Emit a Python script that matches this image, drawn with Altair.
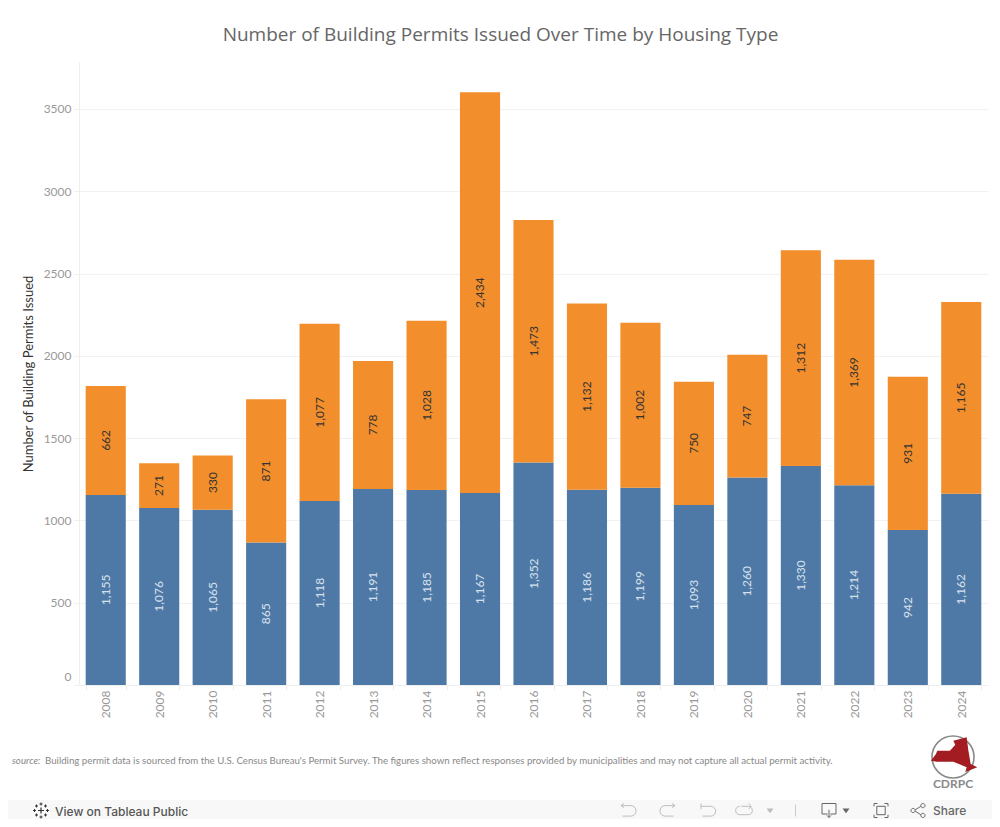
import altair as alt
import pandas as pd

years = [str(y) for y in range(2008, 2025)]
lower = [1155, 1076, 1065, 865, 1118, 1191, 1185, 1167, 1352, 1186, 1199, 1093, 1260, 1330, 1214, 942, 1162]
upper = [662, 271, 330, 871, 1077, 778, 1028, 2434, 1473, 1132, 1002, 750, 747, 1312, 1369, 931, 1165]
y_ticks = [0, 500, 1000, 1500, 2000, 2500, 3000, 3500]

TITLE = "Number of Building Permits Issued Over Time by Housing Type"
Y_TITLE = "Number of Building Permits Issued"
SOURCE_LEAD = "source:"
SOURCE = ("Building permit data is sourced from the U.S. Census Bureau's Permit Survey. The figures shown "
          "reflect responses provided by municipalities and may not capture all actual permit activity.")

# Plot frame on the page
PL, PT, PW, PH = 79, 62, 909, 623
FONT = "Lato"

rows = []
for yr, a, b in zip(years, lower, upper):
    rows.append(dict(year=yr, series="lower", base=0, top=a, mid=a / 2, value=a))
    rows.append(dict(year=yr, series="upper", base=a, top=a + b, mid=a + b / 2, value=b))
df = pd.DataFrame(rows)

x_enc = alt.X("year:N", title=None, sort=years,
              scale=alt.Scale(paddingInner=0.25, paddingOuter=0.125),
              axis=alt.Axis(labelAngle=270, labelColor="#999999", labelFontSize=12, labelFont=FONT,
                            labelAlign="right", labelBaseline="middle", labelPadding=0,
                            tickBand="extent", tickColor="#eeeeee", tickSize=5,
                            domainColor="#eeeeee", grid=False))
y_enc = alt.Y("base:Q", title=Y_TITLE,
              scale=alt.Scale(domain=[0, 3785], nice=False, zero=True),
              axis=alt.Axis(values=y_ticks, format="d", labelColor="#999999", labelFontSize=12, labelFont=FONT,
                            labelPadding=3, labelFlush=True, labelFlushOffset=-2,
                            tickColor="#eeeeee", tickSize=5, domainColor="#eeeeee",
                            gridColor="#f2f2f2", grid=True,
                            titleFont=FONT, titleFontSize=13, titleFontWeight="normal", titleColor="#333333",
                            titlePadding=8))

bars = alt.Chart(df).mark_bar().encode(
    x=x_enc, y=y_enc, y2="top:Q",
    color=alt.Color("series:N", legend=None,
                    scale=alt.Scale(domain=["lower", "upper"], range=["#4E79A7", "#F28E2B"])))


def labels(series, color):
    return alt.Chart(df[df.series == series]).mark_text(
        angle=270, font=FONT, fontSize=12, color=color, align="center", baseline="middle"
    ).encode(x=alt.X("year:N", sort=years), y=alt.Y("mid:Q"), text=alt.Text("value:Q", format=","))


one = alt.Data(values=[{"k": 0}])


def px(x):
    return alt.value(x - PL)


def py(y):
    return alt.value(y - PT)


def txt(s, x, y, size, color, align="left", weight="normal", style="normal", font=FONT):
    return alt.Chart(one).mark_text(text=s, fontSize=size, color=color, align=align, baseline="middle",
                                    fontWeight=weight, fontStyle=style, font=font).encode(x=px(x), y=py(y))


def box(x0, y0, x1, y1, color):
    return alt.Chart(one).mark_rect(color=color).encode(x=px(x0), x2=px(x1), y=py(y0), y2=py(y1))


def icon(path, x, y, side, stroke=None, fill=None, sw=1.0):
    kw = dict(shape=path, size=4 * side * side, opacity=1, strokeWidth=sw)
    kw["fill"] = fill if fill else "transparent"
    kw["stroke"] = stroke if stroke else "transparent"
    return alt.Chart(one).mark_point(**kw).encode(x=px(x), y=py(y))


def scaled(points, cx, cy, scale):
    return "M" + "L".join(f"{(a - cx) / scale:.3f},{(b - cy) / scale:.3f}" for a, b in points) + "Z"


ny_outline = [(993, 122), (1008, 102), (1012, 92), (1050, 92), (1066, 74), (1060, 62), (1100, 52), (1105, 90),
              (1112, 132), (1132, 142), (1096, 156), (1100, 142), (1060, 125), (1010, 125)]
NY = scaled(ny_outline, 1060, 105, 150)

CIRCLE = "M-0.5,0A0.5,0.5 0 1,1 0.5,0A0.5,0.5 0 1,1 -0.5,0Z"
TRI = "M-0.5,-0.3L0.5,-0.3L0,0.4Z"
CROSS = "M-0.5,0L0.5,0M0,-0.5L0,0.5"
UNDO = "M-0.5,-0.35L0.2,-0.35A0.35,0.35 0 0 1 0.2,0.4L-0.4,0.4M-0.3,-0.5L-0.5,-0.35L-0.3,-0.2"
REDO = "M0.5,-0.35L-0.2,-0.35A0.35,0.35 0 0 0 -0.2,0.4L0.4,0.4M0.3,-0.5L0.5,-0.35L0.3,-0.2"
REVERT = "M-0.5,-0.5L-0.5,-0.1M-0.5,-0.3L0.2,-0.3A0.35,0.35 0 0 1 0.2,0.4L-0.4,0.4"
REFRESH = ("M-0.2,-0.3L0.3,-0.3A0.3,0.3 0 0 1 0.3,0.3L-0.3,0.3A0.3,0.3 0 0 1 -0.3,-0.3"
           "M0.35,-0.5L0.5,-0.3L0.35,-0.1")
SCREEN = "M-0.5,-0.2L-0.5,-0.5L0.5,-0.5L0.5,0.25L0.1,0.25M-0.1,0.25L-0.5,0.25L-0.5,-0.2M0,-0.05L0,0.5M-0.15,0.35L0,0.5L0.15,0.35"
FRAME = ("M-0.5,-0.3L-0.5,-0.5L-0.25,-0.5M0.25,-0.5L0.5,-0.5L0.5,-0.3M0.5,0.3L0.5,0.5L0.25,0.5"
         "M-0.25,0.5L-0.5,0.5L-0.5,0.3M-0.3,-0.3L0.3,-0.3L0.3,0.3L-0.3,0.3Z")
SHARE = ("M-0.2,-0.05L0.2,-0.3M-0.2,0.05L0.2,0.3"
         "M-0.5,0A0.15,0.15 0 1,1 -0.2,0A0.15,0.15 0 1,1 -0.5,0Z"
         "M0.2,-0.35A0.15,0.15 0 1,1 0.5,-0.35A0.15,0.15 0 1,1 0.2,-0.35Z"
         "M0.2,0.35A0.15,0.15 0 1,1 0.5,0.35A0.15,0.15 0 1,1 0.2,0.35Z")

GREY = "#bdbdbd"
DARK = "#666666"
BAR_Y = 810.5
extras = [
    txt(SOURCE_LEAD, 12, 761, 9.7, "#888888", style="italic"),
    txt(SOURCE, 45, 761, 9.7, "#888888"),
    box(0, 800, 1000, 827, "#f8f8f8"),
    txt("View on Tableau Public", 55, BAR_Y + 1.5, 12, "#555555", weight=500, font="Inter"),
    icon(CROSS, 41, BAR_Y, 6, stroke="#333333", sw=1.2),
    icon(CROSS, 41, BAR_Y - 6.5, 3, stroke="#333333", sw=1),
    icon(CROSS, 41, BAR_Y + 6.5, 3, stroke="#333333", sw=1),
    icon(CROSS, 34.5, BAR_Y, 3, stroke="#333333", sw=1),
    icon(CROSS, 47.5, BAR_Y, 3, stroke="#333333", sw=1),
    icon(CROSS, 36.5, BAR_Y - 4.5, 3, stroke="#333333", sw=1),
    icon(CROSS, 45.5, BAR_Y - 4.5, 3, stroke="#333333", sw=1),
    icon(CROSS, 36.5, BAR_Y + 4.5, 3, stroke="#333333", sw=1),
    icon(CROSS, 45.5, BAR_Y + 4.5, 3, stroke="#333333", sw=1),
    icon(UNDO, 628, BAR_Y, 14, stroke=GREY),
    icon(REDO, 668, BAR_Y, 14, stroke=GREY),
    icon(REVERT, 708, BAR_Y, 14, stroke=GREY),
    icon(REFRESH, 744, BAR_Y, 14, stroke=GREY),
    icon(TRI, 770, BAR_Y, 7, fill=GREY),
    box(795, BAR_Y - 6, 796, BAR_Y + 6, "#cccccc"),
    icon(SCREEN, 829, BAR_Y, 14, stroke=DARK),
    icon(TRI, 846, BAR_Y, 7, fill=DARK),
    icon(FRAME, 881, BAR_Y, 14, stroke=DARK),
    icon(SHARE, 918, BAR_Y, 14, stroke=DARK),
    txt("Share", 933, BAR_Y, 12, DARK, weight=500, font="Inter"),
    icon(CIRCLE, 953, 757, 42, stroke="#8a8a8a", sw=1.6),
    icon(NY, 953.3, 755, 50, fill="#a31c22"),
    txt("CDRPC", 953, 784, 12, "#8a8a8a", align="center", weight="bold"),
]

chart = alt.layer(bars, labels("lower", "#d9e2ec"), labels("upper", "#333333"), *extras).properties(
    width=PW, height=PH,
    title=alt.TitleParams(TITLE, font="Open Sans", fontSize=19, fontWeight=500, color="#666666",
                          anchor="middle", dx=-33, offset=17),
    autosize=alt.AutoSizeParams(type="none"),
    padding={"left": PL - 8, "top": PT - 8, "right": 992 - PL - PW, "bottom": 819 - PT - PH},
).configure_view(stroke=None).resolve_scale(x="shared", y="shared")

chart.save("out.html", embed_options={"renderer": "svg", "actions": False})
